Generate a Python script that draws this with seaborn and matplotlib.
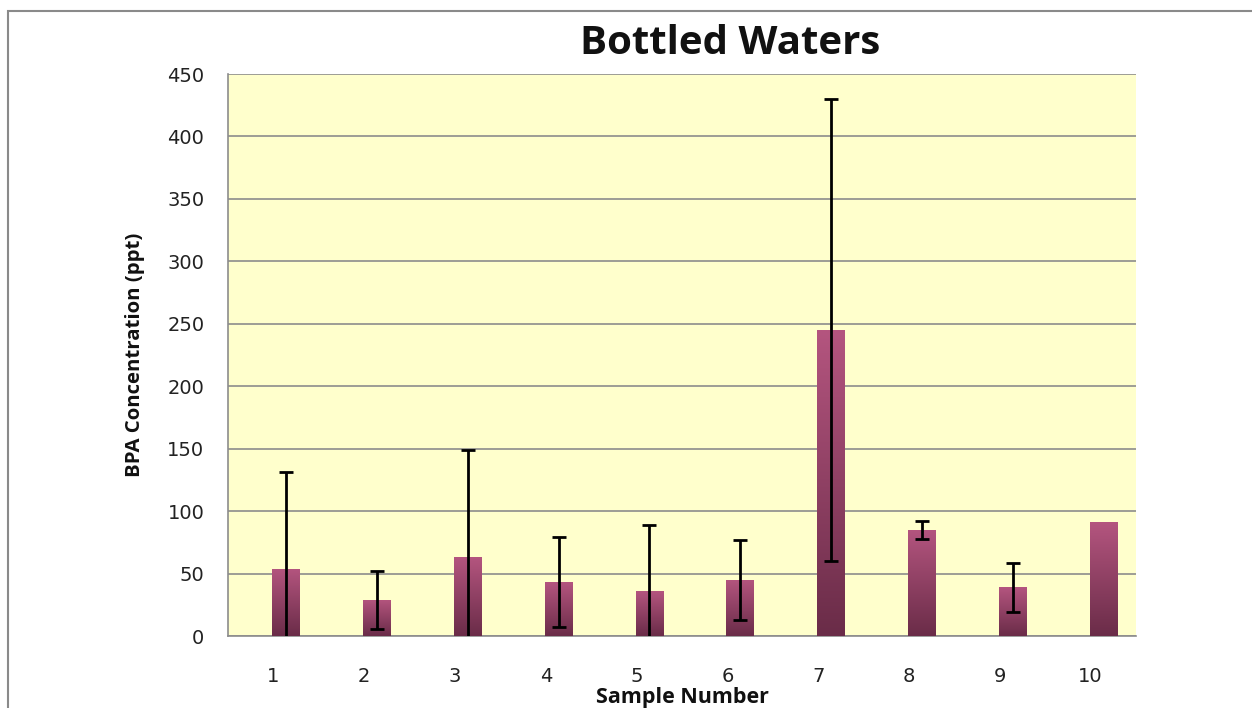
import numpy as np
import pandas as pd
import matplotlib
matplotlib.use("Agg")
import matplotlib.pyplot as plt
import seaborn as sns
from matplotlib.patches import Rectangle
from matplotlib.colors import LinearSegmentedColormap

samples = ["1", "2", "3", "4", "5", "6", "7", "8", "9", "10"]
bpa_mean = [54, 29, 63, 43, 36, 45, 245, 85, 39, 91]
bpa_err = [77, 23, 86, 36, 53, 32, 185, 7, 19.5, 0]
y_ticks = [0, 50, 100, 150, 200, 250, 300, 350, 400, 450]

BAR_SHIFT = 0.14  # Excel-style offset of bars to the right of the category centre

df = pd.DataFrame({"Sample": samples, "BPA": bpa_mean})

sns.set_style("white")
plt.rcParams["font.family"] = ["DejaVu Sans"]

fig = plt.figure(figsize=(12.52, 7.08), dpi=100)
ax = fig.add_axes([228/1252, 1-636/708, (1136-228)/1252, (636-74)/708])

# outer chart frame
fig.patches.append(Rectangle((8/1252, -0.05), 1.2, 0.05 + (1 - 11/708),
                             transform=fig.transFigure, fill=False,
                             edgecolor="#8a8a8a", linewidth=1.5, zorder=0))

ax.set_facecolor("#FFFFCC")
sns.barplot(data=df, x="Sample", y="BPA", order=samples, color="#9c4570",
            width=0.30, ax=ax, errorbar=None, zorder=3, linewidth=0)

# shift bars and add gradient fill
cmap = LinearSegmentedColormap.from_list("bar", ["#6a2c48", "#b4557f"])
grad = np.linspace(0, 1, 256).reshape(-1, 1)
for p in list(ax.patches):
    p.set_x(p.get_x() + BAR_SHIFT)
    x0, y0 = p.get_x(), p.get_y()
    w, h = p.get_width(), p.get_height()
    im = ax.imshow(grad, extent=[x0, x0 + w, y0, y0 + h], origin="lower",
                   cmap=cmap, aspect="auto", zorder=3.5)
    im.set_clip_path(p)

pos = np.arange(len(samples))
err = np.array(bpa_err, dtype=float)
mask = err > 0
ax.errorbar(pos[mask] + BAR_SHIFT, np.array(bpa_mean)[mask], yerr=err[mask], fmt="none",
            ecolor="black", elinewidth=2, capsize=5, capthick=2, zorder=5)

ax.set_xlim(-0.5, len(samples) - 0.5)
ax.set_ylim(0, 450)
ax.set_yticks(y_ticks)
ax.yaxis.grid(True, color="#8c8c8c", linewidth=1.2, zorder=1)
ax.set_axisbelow(True)

for s in ["top", "right"]:
    ax.spines[s].set_visible(False)
ax.spines["left"].set_color("#8c8c8c")
ax.spines["bottom"].set_color("#8c8c8c")
ax.spines["left"].set_linewidth(1.2)
ax.spines["bottom"].set_linewidth(1.2)

ax.set_xticks(pos)
ax.set_xticklabels(samples)
ax.set_xticks(np.arange(-0.5, len(samples), 1.0), minor=True)
ax.tick_params(axis="x", which="major", length=0, pad=22, labelsize=14, labelcolor="#222222")
ax.tick_params(axis="x", which="minor", length=8, width=1, color="#8c8c8c", direction="out")
ax.tick_params(axis="y", which="major", length=7, width=1, color="#8c8c8c",
               direction="out", pad=10, labelsize=14, labelcolor="#222222")

ax.set_xlabel("Sample Number", fontsize=15.5, fontweight="bold", family="Open Sans",
              labelpad=1, color="#111111")
ax.set_ylabel("BPA Concentration (ppt)", fontsize=14.7, fontweight="bold",
              family="Open Sans", labelpad=16, color="#111111")

fig.text(730/1252, 1 - 44/708, "Bottled Waters", fontsize=29, fontweight="bold",
         family="Open Sans", ha="center", va="center", color="#111111")

fig.savefig("out.png", dpi=100, facecolor="white")
